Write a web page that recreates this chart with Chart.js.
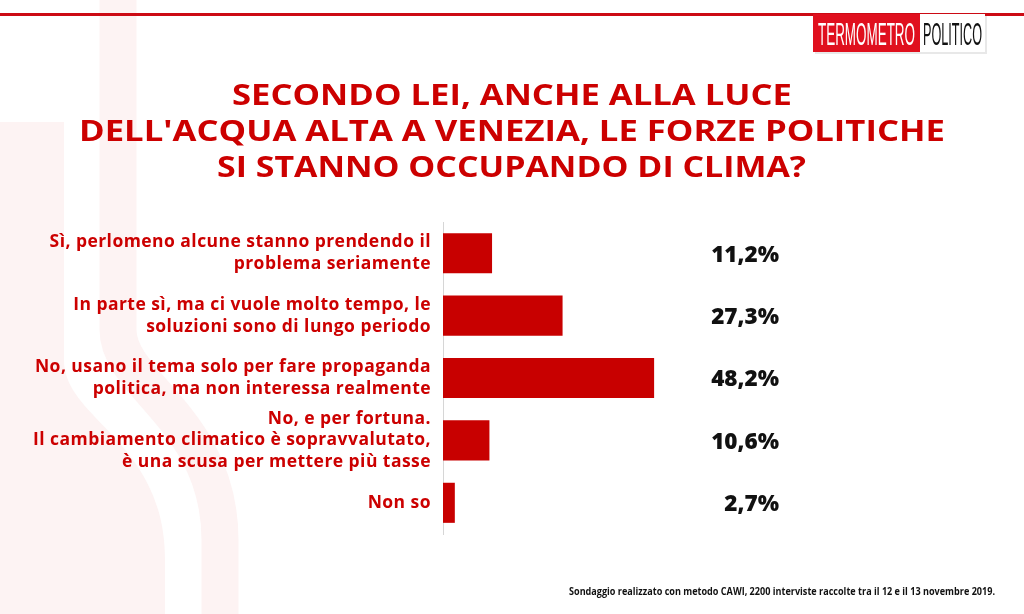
<!DOCTYPE html>
<html>
<head>
<meta charset="utf-8">
<script src="https://cdn.jsdelivr.net/npm/chart.js@4"></script>
<style>
  html, body { margin: 0; padding: 0; background: #ffffff; }
  #wrap { position: relative; width: 1024px; height: 614px; overflow: hidden; background: #fff; }
  #bg, #fg { position: absolute; left: 0; top: 0; }
  #chartBox { position: absolute; left: 0; top: 0; width: 1024px; height: 614px; }
</style>
</head>
<body>
<div id="wrap">
  <svg id="bg" width="1024" height="614" xmlns="http://www.w3.org/2000/svg">
    <path d="M0,122 L64,122 L64,360 C64,420 165,440 165,560 L165,614 L0,614 Z" fill="#fdf3f3"/>
    <path d="M118,0 L118,330 C118,385 220,420 220,540 L220,614" fill="none" stroke="#fdf3f3" stroke-width="37"/>
  </svg>
  <div id="chartBox"><canvas id="c"></canvas></div>
  <svg id="fg" width="1024" height="614" xmlns="http://www.w3.org/2000/svg">
    <rect x="0" y="13" width="1024" height="3" fill="#cc0a14"/>
    <rect x="815" y="16" width="172" height="38" fill="#d8d8d8" opacity="0.6"/>
    <rect x="813" y="14" width="172" height="38" fill="#ffffff"/>
    <rect x="813" y="14" width="107" height="38" fill="#e0101e"/>
    <text x="818" y="45" font-family="Liberation Sans, Arial, sans-serif" font-size="32" fill="#ffffff" textLength="97" lengthAdjust="spacingAndGlyphs">TERMOMETRO</text>
    <text x="923" y="45" font-family="Liberation Sans, Arial, sans-serif" font-size="32" fill="#111111" textLength="59" lengthAdjust="spacingAndGlyphs">POLITICO</text>
    <g font-family="Open Sans, sans-serif" font-weight="700" font-size="28" fill="#cc0000" text-anchor="middle">
      <text x="512" y="104.5" textLength="560" lengthAdjust="spacingAndGlyphs">SECONDO LEI, ANCHE ALLA LUCE</text>
      <text x="512" y="140.5" textLength="866" lengthAdjust="spacingAndGlyphs">DELL'ACQUA ALTA A VENEZIA, LE FORZE POLITICHE</text>
      <text x="511.5" y="176.5" textLength="589" lengthAdjust="spacingAndGlyphs">SI STANNO OCCUPANDO DI CLIMA?</text>
    </g>
    <text x="995" y="595" font-family="Open Sans, sans-serif" font-weight="700" font-size="10" fill="#111111" text-anchor="end" textLength="426" lengthAdjust="spacingAndGlyphs">Sondaggio realizzato con metodo CAWI, 2200 interviste raccolte tra il 12 e il 13 novembre 2019.</text>
  </svg>
</div>
<script>
const categories = [
  ["Sì, perlomeno alcune stanno prendendo il", "problema seriamente"],
  ["In parte sì, ma ci vuole molto tempo, le", "soluzioni sono di lungo periodo"],
  ["No, usano il tema solo per fare propaganda", "politica, ma non interessa realmente"],
  ["No, e per fortuna.", "Il cambiamento climatico è sopravvalutato,", "è una scusa per mettere più tasse"],
  ["Non so"]
];
const values = [11.2, 27.3, 48.2, 10.6, 2.7];
const valueLabels = ["11,2%", "27,3%", "48,2%", "10,6%", "2,7%"];

const spacingPlugin = {
  id: 'labelSpacing',
  beforeDraw(chart) { chart.ctx.save(); chart.ctx.letterSpacing = '0.45px'; },
  afterDraw(chart) { chart.ctx.restore(); }
};

const valueTextPlugin = {
  id: 'valueText',
  afterDatasetsDraw(chart) {
    const ctx = chart.ctx;
    const y = chart.scales.y;
    ctx.save();
    ctx.letterSpacing = '0px';
    ctx.font = '800 22.5px "Open Sans", sans-serif';
    ctx.fillStyle = '#111111';
    ctx.textAlign = 'right';
    ctx.textBaseline = 'middle';
    valueLabels.forEach((t, i) => {
      ctx.fillText(t, 779, y.getPixelForValue(i) + 2);
    });
    ctx.restore();
  }
};

new Chart(document.getElementById('c'), {
  type: 'bar',
  data: {
    labels: categories,
    datasets: [{
      data: values,
      backgroundColor: '#c80000',
      borderWidth: 0,
      categoryPercentage: 0.8,
      barPercentage: 0.803
    }]
  },
  options: {
    indexAxis: 'y',
    responsive: true,
    maintainAspectRatio: false,
    animation: false,
    events: [],
    layout: { padding: { top: 222, bottom: 80, left: 0, right: 143 } },
    plugins: { legend: { display: false }, tooltip: { enabled: false }, title: { display: false } },
    scales: {
      x: {
        display: false,
        min: 0,
        max: 100
      },
      y: {
        afterFit(scale) { scale.width = 443; },
        grid: { display: false, drawTicks: false },
        border: { display: true, color: '#d6d6d6', width: 1, dash: [1, 2] },
        ticks: {
          autoSkip: false,
          padding: 12,
          color: '#cc0000',
          font: { family: '"Open Sans", sans-serif', weight: '700', size: 17.5, lineHeight: 1.25 }
        }
      }
    }
  },
  plugins: [spacingPlugin, valueTextPlugin]
});
</script>
</body>
</html>
